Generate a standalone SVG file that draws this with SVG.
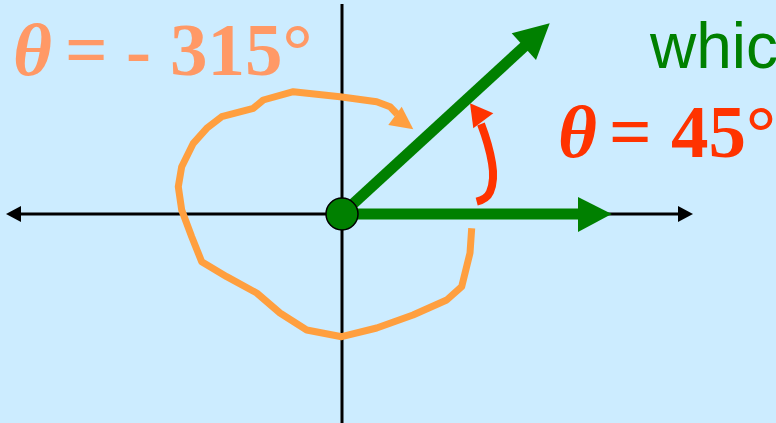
<svg xmlns="http://www.w3.org/2000/svg" width="776" height="423" viewBox="0 0 776 423">
<defs>
<style>
.axis{stroke:#000;stroke-width:3;fill:none}
.vec{stroke:#008000;stroke-width:11;fill:none}
.big{font-family:"Liberation Serif","Times New Roman",serif;font-weight:bold;font-size:75px}
.th{font-style:italic}
</style>
</defs>
<rect x="0" y="0" width="776" height="423" fill="#CCECFF"/>
<g id="axes">
<line class="axis" x1="342" y1="4" x2="342" y2="423"/>
<line class="axis" x1="18" y1="214" x2="682" y2="214"/>
<polygon points="693,214 678,206 678,222" fill="#000"/>
<polygon points="6,214 21,206 21,222" fill="#000"/>
</g>
<g id="connectors">
<path id="orange-arc" d="M471.7,228.3 L470,253 L461.7,286.7 L446.7,300 L413,315 L376.7,328 L341.7,336.7 L306.7,330 L280,313 L256.7,293 L226.7,276.7 L201.7,261.7 L191.7,236.7 L181.7,210 L178.3,186.7 L181.7,166.7 L193.3,143.3 L206.7,128.3 L221.7,116.7 L253.3,108.3 L263.3,100 L293.3,91.7 L340,96.7 L376.7,101.7 L390,106.7 L397,114" stroke="#FF9F3F" stroke-width="7" fill="none" stroke-linejoin="round"/>
<polygon points="413.3,129.3 388.3,125 401.7,106.7" fill="#FF9F3F"/>
<path id="red-arc" d="M476.7,201.7 Q487,199 490,192 Q495,180 492,163 Q489,145 481,124" stroke="#FF3300" stroke-width="8" fill="none"/>
<polygon points="470,103.3 493.3,113.3 473.3,128.3" fill="#FF3300"/>
<line class="vec" x1="342" y1="214" x2="580" y2="214"/>
<polygon points="611.7,214 578,197 578,232" fill="#008000"/>
<line class="vec" x1="342" y1="214" x2="526" y2="45"/>
<polygon points="549.7,23.3 511.7,33.3 536,60" fill="#008000"/>
</g>
<g id="origin">
<circle cx="342" cy="214" r="16" fill="#008000" stroke="#000" stroke-width="1.5"/>
</g>
<g id="label-neg">
<text class="big" y="75" fill="#FF9966"><tspan class="th" x="13">θ</tspan><tspan x="65">=</tspan><tspan x="126">-</tspan><tspan x="170">315°</tspan></text>
</g>
<g id="label-pos">
<text class="big" y="157" fill="#FF3300"><tspan class="th" x="558">θ</tspan><tspan x="609">=</tspan><tspan x="671">45°</tspan></text>
</g>
<g id="label-which">
<text x="650" y="68" fill="#008000" font-family="'Liberation Sans',Arial,sans-serif" font-size="64">whic</text>
</g>
</svg>
